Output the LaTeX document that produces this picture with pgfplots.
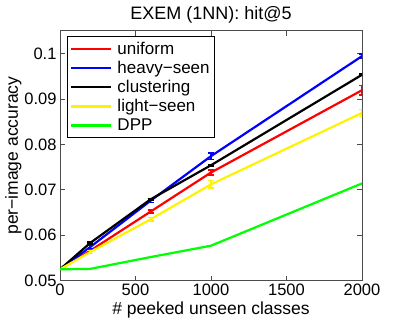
\documentclass[border=0pt]{standalone}
\usepackage{fontspec}
\setmainfont{Liberation Sans}
\usepackage{pgfplots}
\pgfplotsset{compat=1.18}

\begin{document}
\begin{tikzpicture}
\begin{axis}[
  scale only axis,
  width=302bp, height=250bp,
  xmin=0, xmax=2000, ymin=0.05, ymax=0.105,
  xtick={0,500,1000,1500,2000},
  ytick={0.05,0.06,0.07,0.08,0.09,0.1},
  yticklabels={0.05,0.06,0.07,0.08,0.09,0.1},
  /pgf/number format/assume math mode=true,
  /pgf/number format/1000 sep={},
  tick align=inside,
  major tick length=5bp,
  tick style={black!70, line width=0.6bp},
  axis line style={black!70, line width=0.7bp},
  ticklabel style={font=\fontsize{16.5bp}{19bp}\selectfont},
  title={EXEM (1NN): hit@5},
  title style={font=\fontsize{18bp}{21bp}\selectfont, yshift=-2bp},
  xlabel={\# peeked unseen classes},
  ylabel={per−image accuracy},
  label style={font=\fontsize{17.5bp}{21bp}\selectfont},
  xlabel style={yshift=1bp},
  ylabel style={yshift=-4bp},
  legend cell align=left,
  legend style={at={(rel axis cs:0.023,0.977)}, anchor=north west,
    draw=black, line width=0.7bp, fill=white,
    font=\fontsize{17bp}{20bp}\selectfont, row sep=1.5bp, inner sep=3bp,
    /tikz/every odd column/.append style={column sep=3bp}},
  legend image code/.code={\draw[#1, line width=2.2bp] (4bp,0bp) -- (44bp,0bp);},
  every axis plot/.append style={line width=2.2bp},
  error bars/error bar style={line width=1.6bp},
  error bars/error mark options={rotate=90, mark size=3bp, line width=1.6bp},
]
\addplot[red, mark=none, error bars/.cd, y dir=both, y explicit] coordinates {
  (0,0.0525) +- (0,0)
  (200,0.0566) +- (0,0.0002)
  (600,0.0652) +- (0,0.0003)
  (1000,0.0738) +- (0,0.0005)
  (2000,0.0919) +- (0,0.0010)
};
\addplot[blue, mark=none, error bars/.cd, y dir=both, y explicit] coordinates {
  (0,0.0525) +- (0,0)
  (200,0.0574) +- (0,0.0003)
  (600,0.0676) +- (0,0.0004)
  (1000,0.0774) +- (0,0.0007)
  (2000,0.0994) +- (0,0.0005)
};
\addplot[black, mark=none, error bars/.cd, y dir=both, y explicit] coordinates {
  (0,0.0525) +- (0,0)
  (200,0.0583) +- (0,0.0002)
  (600,0.0679) +- (0,0.0001)
  (1000,0.0754) +- (0,0.0002)
  (2000,0.0953) +- (0,0.0002)
};
\addplot[yellow, mark=none, error bars/.cd, y dir=both, y explicit] coordinates {
  (0,0.0525) +- (0,0)
  (200,0.0563) +- (0,0.0003)
  (600,0.0635) +- (0,0.0004)
  (1000,0.0712) +- (0,0.0008)
  (2000,0.0869) +- (0,0.0008)
};
\addplot[green, mark=none] coordinates {
  (0,0.0525) (200,0.0526) (600,0.0552) (1000,0.0577) (2000,0.0714)
};
\legend{uniform, heavy−seen, clustering, light−seen, DPP}
\end{axis}
\pgfresetboundingbox
\path ([shift={(-60bp,-40bp)}]current axis.south west) rectangle ([shift={(38bp,30.7bp)}]current axis.north east);
\end{tikzpicture}
\end{document}
